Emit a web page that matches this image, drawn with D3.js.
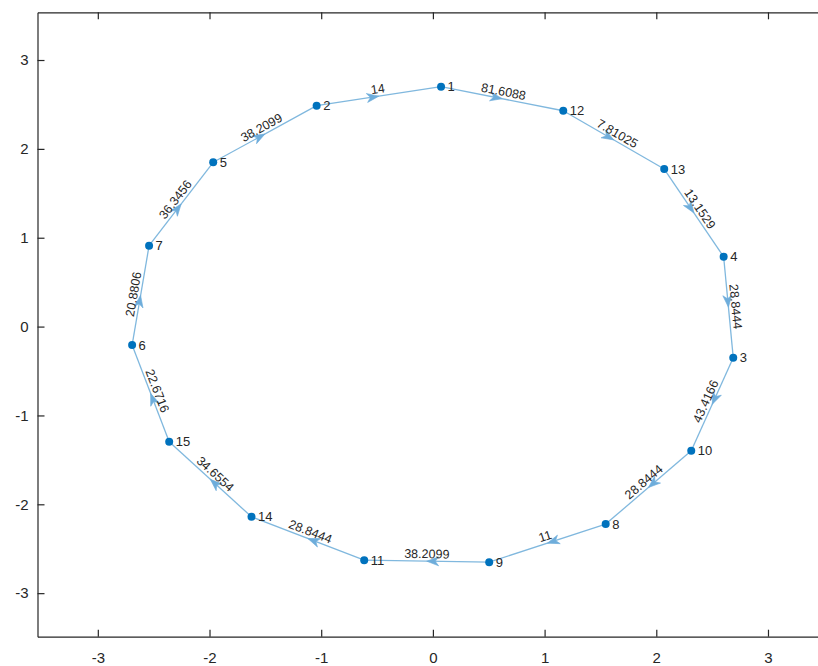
<!DOCTYPE html>
<html>
<head>
<meta charset="utf-8">
<script src="https://cdn.jsdelivr.net/npm/d3@7"></script>
<style>
  html, body { margin: 0; padding: 0; background: #fff; }
  svg { display: block; }
  text { font-family: "Liberation Sans", Arial, Helvetica, sans-serif; }
</style>
</head>
<body>
<svg id="chart" width="818" height="666"></svg>
<script>
// Node layout (data coordinates)
const nodeIds = [1, 2, 3, 4, 5, 6, 7, 8, 9, 10, 11, 12, 13, 14, 15];
const nodeX = [0.073, -1.041, 2.689, 2.603, -1.967, -2.693, -2.541, 1.547, 0.504, 2.313, -0.615, 1.167, 2.071, -1.624, -2.361];
const nodeY = [2.700, 2.486, -0.351, 0.786, 1.849, -0.208, 0.910, -2.223, -2.651, -1.398, -2.629, 2.429, 1.773, -2.141, -1.297];

// Directed edges and their weights
const edgeSource = [2, 1, 12, 13, 4, 3, 10, 8, 9, 11, 14, 15, 6, 7, 5];
const edgeTarget = [1, 12, 13, 4, 3, 10, 8, 9, 11, 14, 15, 6, 7, 5, 2];
const edgeWeight = [14, 81.6088, 7.81025, 13.1529, 28.8444, 43.4166, 28.8444, 11, 38.2099, 28.8444, 34.6554, 22.6716, 20.8806, 36.3456, 38.2099];

// Axis ticks
const xTicks = [-3, -2, -1, 0, 1, 2, 3];
const yTicks = [-3, -2, -1, 0, 1, 2, 3];
const xLimits = [-3.54, 3.54];
const yLimits = [-3.49, 3.537];

const svg = d3.select("#chart");
const box = { left: 37.5, top: 12.3, right: 828.3, bottom: 636.7 };

const x = d3.scaleLinear().domain(xLimits).range([box.left, box.right]);
const y = d3.scaleLinear().domain(yLimits).range([box.bottom, box.top]);

const axisColor = "#262626";
const edgeColor = "#80b8de";
const arrowColor = "#6eaddb";
const nodeColor = "#0072bd";
const tickText = d => String(d);

// Axes box with inward ticks
function styleAxis(g) {
  g.selectAll(".domain").attr("stroke", axisColor).attr("stroke-width", 1.2);
  g.selectAll(".tick line").attr("stroke", axisColor).attr("stroke-width", 1.2);
  g.selectAll(".tick text").attr("fill", axisColor).attr("font-size", 15)
    .attr("font-family", "'Liberation Sans', Arial, sans-serif");
}

const xAxis = d3.axisBottom(x).tickValues(xTicks).tickSizeInner(-7).tickSizeOuter(0).tickPadding(16)
  .tickFormat(tickText);
svg.append("g").attr("transform", `translate(0,${box.bottom})`).call(xAxis).call(styleAxis);

const xTop = d3.axisTop(x).tickValues(xTicks).tickSizeInner(-7).tickSizeOuter(0).tickFormat("");
svg.append("g").attr("transform", `translate(0,${box.top})`).call(xTop).call(styleAxis);

const yAxis = d3.axisLeft(y).tickValues(yTicks).tickSizeInner(-7).tickSizeOuter(0).tickPadding(9)
  .tickFormat(tickText);
svg.append("g").attr("transform", `translate(${box.left},0)`).call(yAxis).call(styleAxis);

const yRight = d3.axisRight(y).tickValues(yTicks).tickSizeInner(-7).tickSizeOuter(0).tickFormat("");
svg.append("g").attr("transform", `translate(${box.right},0)`).call(yRight).call(styleAxis);

// Graph data
const nodes = nodeIds.map((id, i) => ({ id, px: x(nodeX[i]), py: y(nodeY[i]) }));
const byId = new Map(nodes.map(n => [n.id, n]));
const edges = edgeSource.map((s, i) => ({
  s: byId.get(s), t: byId.get(edgeTarget[i]), w: edgeWeight[i]
}));

const plot = svg.append("g");

// Edge lines
plot.selectAll("line.edge").data(edges).join("line")
  .attr("class", "edge")
  .attr("x1", d => d.s.px).attr("y1", d => d.s.py)
  .attr("x2", d => d.t.px).attr("y2", d => d.t.py)
  .attr("stroke", edgeColor).attr("stroke-width", 1.3);

// Arrowheads at the middle of each edge
const arrowPath = "M0,0 L-12,-4.5 L-8.5,0 L-12,4.5 Z";
plot.selectAll("path.arrow").data(edges).join("path")
  .attr("class", "arrow")
  .attr("d", arrowPath)
  .attr("fill", arrowColor)
  .attr("stroke", arrowColor).attr("stroke-width", 0.6).attr("stroke-linejoin", "round")
  .attr("transform", d => {
    const mx = (d.s.px + d.t.px) / 2, my = (d.s.py + d.t.py) / 2;
    const a = Math.atan2(d.t.py - d.s.py, d.t.px - d.s.px) * 180 / Math.PI;
    return `translate(${mx},${my}) rotate(${a})`;
  });

// Edge weight labels, rotated along each edge and kept readable
plot.selectAll("text.elabel").data(edges).join("text")
  .attr("class", "elabel")
  .attr("font-size", 12.5)
  .attr("fill", axisColor)
  .attr("text-anchor", "middle")
  .attr("transform", d => {
    const mx = (d.s.px + d.t.px) / 2, my = (d.s.py + d.t.py) / 2;
    let a = Math.atan2(d.t.py - d.s.py, d.t.px - d.s.px) * 180 / Math.PI;
    if (a > 90) a -= 180;
    if (a <= -90) a += 180;
    return `translate(${mx},${my}) rotate(${a})`;
  })
  .attr("y", -3)
  .text(d => String(d.w));

// Nodes
plot.selectAll("circle.node").data(nodes).join("circle")
  .attr("class", "node")
  .attr("cx", d => d.px).attr("cy", d => d.py)
  .attr("r", 4).attr("fill", nodeColor);

// Node labels
plot.selectAll("text.nlabel").data(nodes).join("text")
  .attr("class", "nlabel")
  .attr("font-size", 13)
  .attr("fill", axisColor)
  .attr("x", d => d.px + 6.5)
  .attr("y", d => d.py + 4.5)
  .text(d => d.id);
</script>
</body>
</html>
